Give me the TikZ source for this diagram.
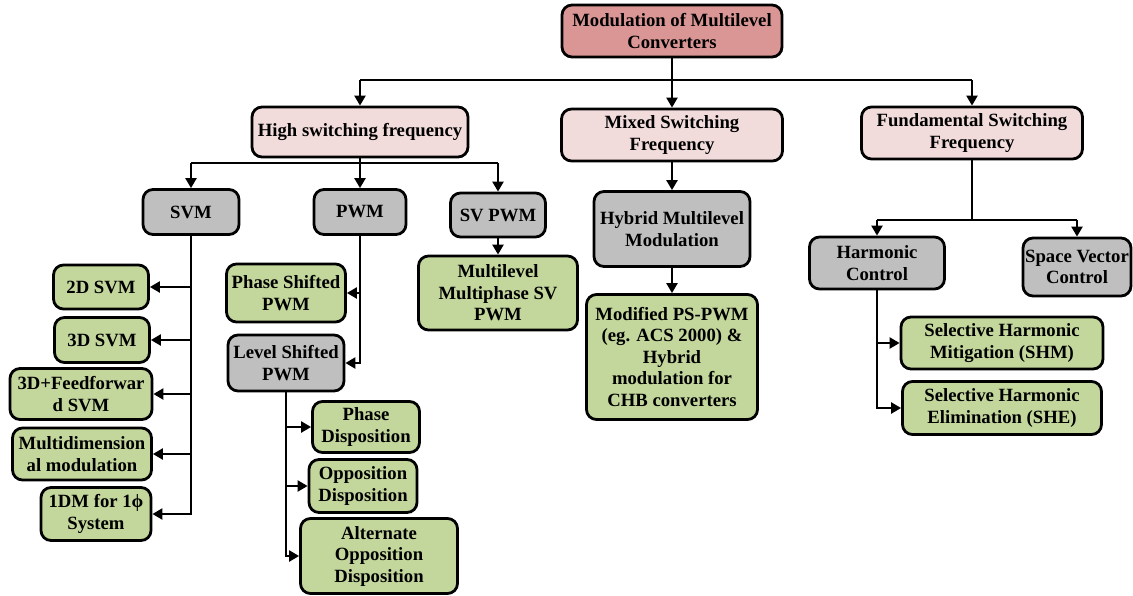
\documentclass[tikz,border=0pt]{standalone}
\usepackage{fontspec}
\setmainfont{Liberation Serif}
\usetikzlibrary{arrows.meta}
\definecolor{rootfill}{RGB}{217,150,148}
\definecolor{pinkfill}{RGB}{242,220,219}
\definecolor{grayfill}{RGB}{191,191,191}
\definecolor{greenfill}{RGB}{195,214,155}
\begin{document}
\begin{tikzpicture}[x=1pt,y=-1pt,
  box/.style={draw=black, line width=2.8pt, rounded corners=10pt, align=center,
    inner sep=0pt, font=\fontsize{18.7}{21.5}\selectfont\bfseries},
  sz/.style 2 args={minimum width=#1pt, minimum height=#2pt},
  rootbox/.style={box, fill=rootfill},
  pinkbox/.style={box, fill=pinkfill},
  graybox/.style={box, fill=grayfill},
  greenbox/.style={box, fill=greenfill},
  link/.style={line width=2.3pt},
  arr/.style={line width=2.3pt, -{Triangle[length=10pt,width=11pt]}}]
\useasboundingbox (0,0) rectangle (1133,595);

% top level
\node[rootbox, sz={220}{52}] (root) at (672,31) {Modulation of Multilevel\\Converters};

% switching-frequency classes
\node[pinkbox, sz={216}{50}] (high) at (360,132) {High switching frequency};
\node[pinkbox, sz={221}{52}] (mixed) at (672,135) {Mixed Switching\\Frequency};
\node[pinkbox, sz={221}{52}] (fund) at (972,133) {Fundamental Switching\\Frequency};

% high switching frequency branch
\node[graybox, sz={96}{45}] (svm) at (191,212) {SVM};
\node[graybox, sz={92}{45}] (pwm) at (360,212) {PWM};
\node[graybox, sz={95}{44}] (svpwm) at (498,215) {SV PWM};
\node[greenbox, sz={159}{74}] (mlsv) at (498,293) {Multilevel\\Multiphase SV\\PWM};

\node[greenbox, sz={95}{44}] (svmtwo) at (101,287) {2D SVM};
\node[greenbox, sz={95}{45}] (svmthree) at (102,340) {3D SVM};
\node[greenbox, sz={142}{51}] (svmff) at (81,394) {3D+Feedforwar\\d SVM};
\node[greenbox, sz={139}{52}] (svmmulti) at (82,454) {Multidimension\\al modulation};
\node[greenbox, sz={110}{53}] (svmone) at (96,514) {1DM for 1ϕ\\System};

\node[greenbox, sz={119}{58}] (phs) at (286,293) {Phase Shifted\\PWM};
\node[graybox, sz={116}{56}] (lvs) at (286,363) {Level Shifted\\PWM};
\node[greenbox, sz={107}{51}] (phd) at (366,427) {Phase\\Disposition};
\node[greenbox, sz={108}{53}] (opd) at (363,486) {Opposition\\Disposition};
\node[greenbox, sz={157}{75}] (aod) at (379,556) {Alternate\\Opposition\\Disposition};

% mixed switching frequency branch
\node[graybox, sz={156}{75}] (hybrid) at (672,229) {Hybrid Multilevel\\Modulation};
\node[greenbox, sz={171}{125}] (modps) at (672,357) {Modified PS-PWM\\(eg. ACS 2000) \&\\Hybrid\\modulation for\\CHB converters};

% fundamental switching frequency branch
\node[graybox, sz={135}{52}] (harm) at (877,263) {Harmonic\\Control};
\node[graybox, sz={108}{58}] (spvc) at (1077,267) {Space Vector\\Control};
\node[greenbox, sz={202}{52}] (shm) at (1002,343) {Selective Harmonic\\Mitigation (SHM)};
\node[greenbox, sz={199}{53}] (she) at (1002,408) {Selective Harmonic\\Elimination (SHE)};

% junction points of the buses
\coordinate (busL) at (360,80);
\coordinate (busR) at (972,80);
\coordinate (hbusL) at (191,163);
\coordinate (hbusM) at (360,163);
\coordinate (hbusR) at (498,163);
\coordinate (fbusM) at (972,220);
\coordinate (fbusL) at (877,220);
\coordinate (fbusR) at (1077,220);

% connectors from the top node
\draw[arr] (root.south) -- (mixed.north);
\draw[link] (busL) -- (busR);
\draw[arr] (busL) -- (high.north);
\draw[arr] (busR) -- (fund.north);

% high switching frequency connectors
\draw[link] (high.south) -- (hbusM);
\draw[link] (hbusL) -- (hbusR);
\draw[arr] (hbusL) -- (svm.north);
\draw[arr] (hbusM) -- (pwm.north);
\draw[arr] (hbusR) -- (svpwm.north);
\draw[arr] (svpwm.south) -- (mlsv.north);

\draw[arr] (svm.south) |- (svmtwo.east);
\draw[arr] (svm.south) |- (svmthree.east);
\draw[arr] (svm.south) |- (svmff.east);
\draw[arr] (svm.south) |- (svmmulti.east);
\draw[arr] (svm.south) |- (svmone.east);

\draw[arr] (pwm.south) |- (phs.east);
\draw[arr] (pwm.south) |- (lvs.east);

\draw[arr] (lvs.south) |- (phd.west);
\draw[arr] (lvs.south) |- (opd.west);
\draw[arr] (lvs.south) |- (aod.west);

% mixed switching frequency connectors
\draw[arr] (mixed.south) -- (hybrid.north);
\draw[arr] (hybrid.south) -- (modps.north);

% fundamental switching frequency connectors
\draw[link] (fund.south) -- (fbusM);
\draw[link] (fbusL) -- (fbusR);
\draw[arr] (fbusL) -- (harm.north);
\draw[arr] (fbusR) -- (spvc.north);
\draw[arr] (harm.south) |- (shm.west);
\draw[arr] (harm.south) |- (she.west);
\end{tikzpicture}
\end{document}
